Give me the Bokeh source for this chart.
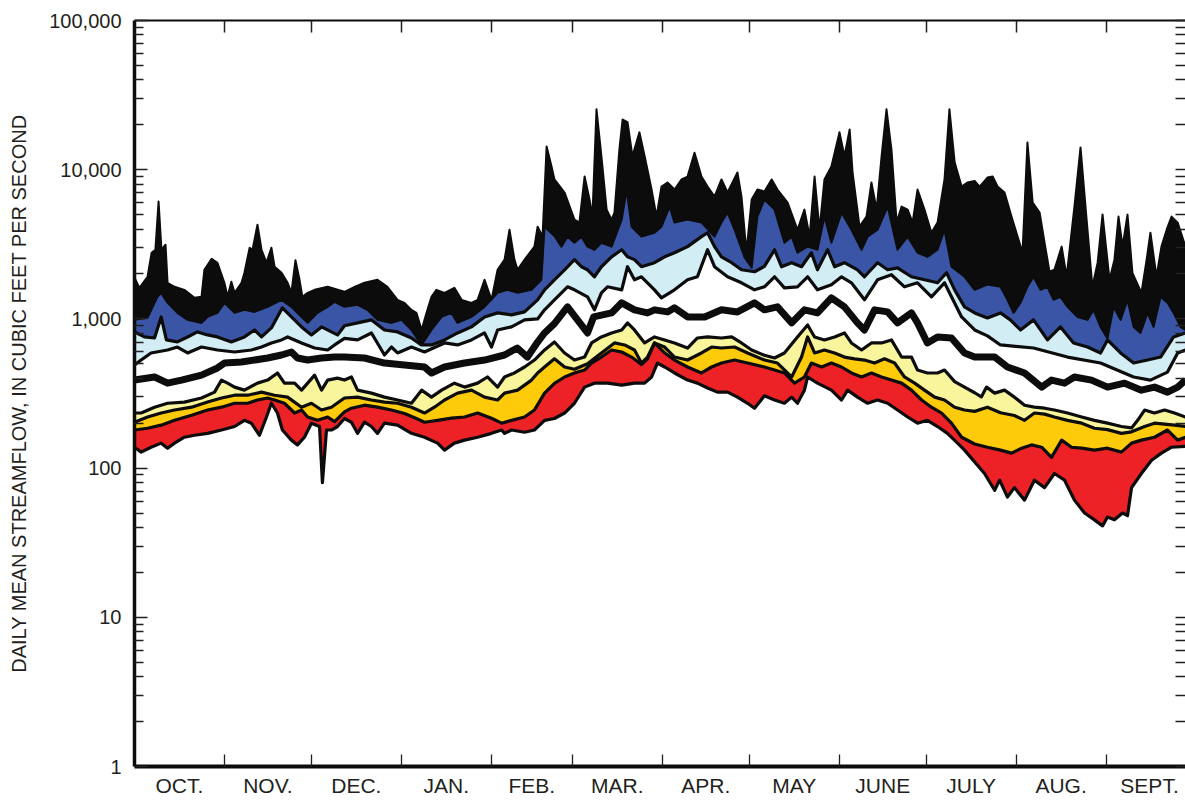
from bokeh.plotting import figure
from bokeh.models import FixedTicker, NumeralTickFormatter, LinearAxis, Range1d
from bokeh.embed import file_html
from bokeh.resources import INLINE

# ---------------- data (day of water year, daily mean streamflow in cfs) ----------------
MONTHS = ["OCT.", "NOV.", "DEC.", "JAN.", "FEB.", "MAR.", "APR.", "MAY", "JUNE", "JULY", "AUG.", "SEPT."]
MONTH_LENGTHS = [31, 30, 31, 31, 28, 31, 30, 31, 30, 31, 31, 30]
Y_TICKS = [1, 10, 100, 1000, 10000, 100000]

MAXIMUM = [(0, 1886), (1.7, 1615), (4.5, 1916), (5.9, 2777), (7.2, 2907), (8.3, 6110), (9.3, 2907), (10.7, 3143),
           (11.4, 1746), (13.8, 1641), (17.2, 1566), (20.7, 1384), (23.1, 1406), (24.1, 2134), (26.6, 2530),
           (28.6, 2380), (31, 1746), (32.1, 1406), (33.4, 1773), (34.5, 1495), (36.9, 1746), (37.9, 2037),
           (39.7, 3000), (40.7, 2907), (42.4, 4280), (43.8, 2907), (45.5, 2380), (47.2, 3000), (48.3, 2237),
           (50.7, 2037), (52.8, 1746), (54.1, 1495), (55.5, 2475), (56.9, 1828), (57.9, 1406), (59.7, 1495),
           (62.1, 1566), (66.6, 1641), (72.4, 1519), (75.9, 1641), (79.3, 1746), (83.8, 1828), (87.2, 1641),
           (90.7, 1342), (93.1, 1281), (95.5, 1150), (97.2, 1097), (99, 843), (100.7, 1097), (102.4, 1406),
           (104.1, 1566), (106.9, 1495), (110.3, 1615), (112.8, 1342), (116.2, 1281), (118.3, 1342), (120.7, 1828),
           (123.1, 1342), (125.2, 2134), (127.6, 2496), (129.3, 3960), (131, 2496), (132.1, 2134), (134.5, 2496),
           (137.9, 3050), (139, 4150), (140.7, 3558), (142.1, 14300), (143.8, 10500), (144.8, 8600), (148.3, 7030),
           (151.7, 4630), (153.4, 4420), (155.2, 9000), (156.9, 6310), (157.9, 4850), (159.3, 25400), (161, 12300),
           (162.8, 5400), (164.5, 4630), (165.5, 5160), (167.2, 13700), (168.3, 21700), (170, 20800), (171.7, 12300),
           (174.1, 17800), (175.9, 12300), (178.3, 7360), (180, 4850), (181.7, 7710), (183.8, 8200), (186.2, 7360),
           (188.6, 8600), (190.7, 9000), (193.1, 13000), (195.5, 9000), (197.6, 7710), (200, 6600), (202.4, 8600),
           (204.5, 7030), (207.9, 9580), (209.3, 6600), (211, 2800), (212.8, 6310), (214.8, 7360), (217.2, 7140),
           (219.7, 8600), (221.7, 7360), (225.2, 6020), (228.6, 3960), (231, 5400), (232.8, 3558), (234.5, 9000),
           (236.2, 3960), (237.9, 8600), (240.3, 10500), (243.1, 17800), (244.8, 12300), (246.6, 18600),
           (247.6, 9580), (250, 4150), (252.4, 4850), (254.1, 8200), (255.9, 5400), (257.6, 12300), (259.3, 25400),
           (261, 13700), (262.8, 4420), (264.5, 5660), (266.6, 5400), (268.3, 4420), (270, 7360), (272.4, 5400),
           (274.8, 3780), (276.9, 4420), (279.3, 8600), (281, 25400), (282.8, 11200), (285.2, 7710), (287.2, 8200),
           (289.7, 8400), (291.4, 7710), (294.1, 8860), (295.9, 9000), (297.6, 7710), (300, 7030), (302.4, 4850),
           (304.5, 3558), (306.2, 2777), (307.9, 15200), (309.7, 6020), (312.1, 5160), (313.8, 3240), (315.5, 2070),
           (317.2, 2134), (319.7, 3050), (321.4, 1916), (324.1, 5660), (326.2, 14100), (328.3, 4630), (330.3, 1641),
           (332.1, 2380), (333.8, 5000), (336.2, 1828), (337.9, 2496), (339.3, 4850), (340.7, 3050), (342.4, 5000),
           (344.1, 2037), (347.2, 1495), (349, 2496), (350.3, 3780), (352.4, 1916), (354.1, 3050), (355.9, 3960),
           (357.6, 4850), (359.7, 4420), (362.4, 3050)]

P95 = [(0, 985), (4.5, 1016), (7.9, 1406), (9.2, 1495), (11.4, 1281), (14.8, 1097), (18.3, 985), (23.1, 940),
       (25.2, 1031), (28.6, 1097), (31, 1281), (34.5, 1097), (37.9, 1150), (41.4, 1114), (45.9, 1204), (50.7, 1342),
       (54.1, 1204), (57.6, 1031), (59.7, 940), (63.1, 1097), (66.6, 1204), (69, 1300), (72.4, 1204), (76.9, 1242),
       (80.3, 1150), (83.8, 985), (88.6, 940), (92.1, 985), (95.5, 843), (99, 669), (102.4, 843), (105.9, 1031),
       (109.3, 1097), (111.4, 940), (116.2, 1031), (120.7, 1204), (125.2, 1495), (128.6, 1566), (132.1, 1495),
       (136.9, 1566), (140.3, 1828), (141.4, 4150), (144.8, 3600), (147.2, 3050), (149.3, 3558), (151.7, 3240),
       (154.1, 3558), (156.2, 3050), (158.6, 2907), (161, 3240), (164.5, 3050), (168, 4630), (169.7, 7360),
       (171.4, 4150), (174.8, 3558), (179.3, 3780), (181.7, 4150), (184.5, 5660), (186.2, 4420), (190.7, 4630),
       (195.5, 4420), (200, 3558), (202.4, 4420), (204.5, 5160), (206.9, 3960), (210.3, 2606), (212.8, 2200),
       (214.8, 4850), (217.2, 6310), (220.7, 5400), (224.1, 3240), (226.6, 3558), (228.6, 2777), (232.1, 3050),
       (235.5, 2907), (237.9, 4850), (240.3, 3240), (243.8, 5160), (247.2, 3960), (250.7, 2907), (252.8, 3558),
       (256.2, 3960), (259.7, 5660), (263.1, 2907), (266.6, 3558), (270, 2777), (273.4, 2606), (276.9, 2907),
       (279.3, 3960), (281.7, 2237), (286.2, 1916), (289.7, 1566), (294.1, 1700), (298.6, 1641), (301, 1342),
       (303.1, 1097), (305.5, 1281), (307.9, 1641), (310, 1916), (312.4, 1566), (314.8, 1641), (316.9, 1342),
       (319.3, 1406), (321.7, 1204), (325.2, 1031), (328.6, 985), (330.7, 1150), (333.1, 884), (335.5, 740),
       (337.6, 1204), (340, 985), (342.4, 1342), (344.5, 884), (346.9, 805), (349.3, 1097), (351.4, 884),
       (353.8, 1406), (356.2, 1281), (358.3, 1097), (360.7, 884), (362.4, 843)]

P90 = [(0, 818), (3.4, 757), (6.9, 745), (9.2, 1031), (11, 723), (14.8, 701), (18.3, 757), (21.7, 818), (25.2, 781),
       (28.6, 757), (33.4, 701), (37.9, 757), (41.4, 843), (43.8, 757), (47.2, 870), (51, 1186), (54.1, 1031),
       (57.6, 884), (61, 781), (64.5, 884), (67.9, 818), (70, 781), (72.4, 900), (76.9, 940), (81.7, 985),
       (86.2, 843), (90.7, 818), (95.5, 745), (98.9, 669), (102.4, 669), (106.9, 723), (111.4, 805), (116.2, 884),
       (120.7, 1031), (125.2, 1097), (130, 1064), (134.5, 1114), (139, 1342), (141.4, 1566), (144.8, 1828),
       (148.3, 2134), (151.7, 2496), (154.1, 2237), (156.2, 2134), (158.6, 1916), (161, 2237), (164.5, 2606),
       (168, 2907), (170, 2606), (172.4, 2496), (174.8, 2237), (179.3, 2380), (182.8, 2606), (186.2, 2777),
       (190.7, 3050), (195.5, 3558), (197.6, 3780), (200, 3050), (202.4, 2606), (205.9, 2380), (209.3, 2134),
       (213.8, 2070), (217.2, 2250), (220.7, 2907), (223.1, 2237), (226.6, 2380), (230, 2237), (233.4, 2777),
       (235.5, 2134), (239, 2907), (241.4, 2237), (244.8, 2380), (249.3, 2134), (251.7, 1916), (256.2, 2380),
       (259.7, 2134), (263.1, 2200), (267.9, 1916), (272.4, 1828), (276.9, 1746), (280, 2037), (282.8, 1566),
       (286.2, 1204), (289.7, 1097), (294.1, 1015), (298.6, 1097), (302, 985), (305.5, 843), (310, 985),
       (314.8, 723), (319.3, 884), (323.8, 690), (328.6, 648), (333.1, 591), (335.5, 723), (340, 591), (344.5, 506),
       (349.3, 530), (353.8, 555), (358.3, 757), (362.4, 805)]

P75 = [(0, 491), (2.3, 530), (5.7, 591), (11.4, 619), (14.8, 648), (18.3, 591), (23.1, 648), (28.6, 619),
       (34.5, 600), (40.3, 619), (43.8, 648), (47.2, 690), (50.7, 723), (52.8, 757), (57.6, 690), (62.1, 638),
       (66.6, 619), (69, 669), (72.4, 740), (76.9, 723), (81.7, 805), (86.2, 573), (88.6, 648), (90.7, 591),
       (95.5, 648), (100, 600), (106.9, 690), (111.4, 669), (116.2, 723), (120.7, 805), (123.1, 648), (125.2, 843),
       (130, 884), (134.5, 985), (139, 1000), (141.4, 1150), (144.8, 1342), (149.3, 1641), (151.7, 1566),
       (156.2, 1406), (158.6, 1150), (161, 1495), (163.1, 1641), (168, 1566), (170, 2237), (172.4, 1828),
       (174.8, 1916), (179.3, 1566), (181.7, 1384), (186.2, 1566), (190.7, 1828), (194.1, 1916), (197.6, 2907),
       (200, 2237), (204.5, 1916), (209.3, 1746), (213.8, 1566), (217.2, 1641), (220.7, 1916), (224.1, 1615),
       (228.6, 1641), (232.1, 1916), (235.5, 1566), (240.3, 1692), (243.8, 1916), (247.2, 1746), (251.7, 1342),
       (256.2, 1828), (261, 1977), (265.5, 1641), (270, 1746), (274.8, 1406), (279.3, 1746), (281.7, 1406),
       (285.2, 1031), (289.7, 843), (294.1, 769), (298.6, 669), (310, 638), (321.7, 555), (333.1, 506),
       (344.5, 408), (350.3, 389), (356.2, 440), (359.7, 591), (362.4, 619)]

MEDIAN = [(0, 389), (6.9, 408), (11.4, 371), (16.2, 389), (23.1, 420), (28.6, 469), (31, 506), (36.9, 514),
          (45.9, 547), (50.7, 573), (54.1, 600), (56.2, 547), (59.7, 530), (64.5, 547), (69, 555), (72.4, 555),
          (79.3, 547), (86.2, 506), (93.1, 491), (100, 476), (102.4, 434), (106.9, 476), (113.8, 506), (120.7, 530),
          (127.6, 573), (132, 638), (135.5, 555), (139, 700), (141.4, 805), (144.8, 930), (149.3, 1204),
          (156.2, 805), (158.3, 1031), (164.5, 1097), (168, 1281), (172.4, 1150), (176.9, 1097), (179.3, 1150),
          (183.8, 1114), (186.2, 1186), (190.7, 1031), (196.6, 1031), (202.4, 1150), (207.9, 1114), (213.8, 1281),
          (217.2, 1150), (221.7, 1204), (226.6, 940), (231, 1150), (235.5, 1097), (240.3, 1384), (244.8, 1204),
          (249.3, 940), (251.7, 843), (255.2, 1150), (259.7, 1114), (263.1, 940), (267.9, 1097), (270, 940),
          (273.4, 690), (276.9, 757), (281.7, 745), (286.2, 591), (289.7, 555), (296.6, 555), (301, 476),
          (306.9, 434), (312.8, 349), (316.2, 389), (320.7, 371), (324.1, 408), (330, 389), (335.5, 349),
          (341.4, 371), (347.2, 333), (351.7, 349), (356.2, 323), (359.7, 349), (362.4, 389)]

P25 = [(0, 234), (2.3, 234), (6.9, 256), (11.4, 272), (17.2, 277), (23.1, 295), (27.6, 323), (30, 389), (32.1, 371),
       (34.5, 349), (37.9, 333), (42.4, 371), (45.9, 389), (49.3, 434), (51.7, 371), (55.2, 371), (57.6, 333),
       (59.7, 371), (62.1, 420), (64.5, 333), (66.6, 389), (70, 401), (72.4, 389), (74.8, 408), (76.9, 333),
       (81.7, 318), (86.2, 299), (90.7, 286), (95.5, 272), (99, 333), (102.4, 299), (105.9, 333), (110.3, 371),
       (113.8, 349), (118.3, 371), (121.7, 408), (125.2, 349), (127.6, 408), (131, 434), (134.5, 476), (137.9, 530),
       (141.4, 619), (144.8, 700), (148.3, 591), (151.7, 530), (155.2, 555), (157.6, 690), (161, 757), (164.5, 805),
       (168, 843), (170, 940), (172.4, 843), (175.9, 690), (179.3, 757), (182.8, 723), (186.2, 690), (190.7, 638),
       (194.1, 745), (197.6, 757), (202.4, 745), (205.9, 757), (209.3, 690), (212.8, 619), (217.2, 570),
       (220.7, 547), (224.1, 591), (228.6, 757), (232.1, 911), (234.5, 757), (237.9, 723), (241.4, 757),
       (244.8, 805), (247.2, 690), (250.7, 619), (254.1, 690), (257.6, 690), (261, 723), (264.5, 555), (267.9, 555),
       (270, 454), (273.4, 434), (276.9, 434), (279.3, 454), (282.8, 380), (286.2, 349), (289.7, 320), (292, 300),
       (293.8, 349), (296.6, 318), (300, 333), (303.4, 299), (306.9, 264), (310.3, 256), (313.8, 252), (317.2, 245),
       (321.7, 234), (326.6, 220), (331, 209), (335.5, 200), (340.3, 190), (343.8, 186), (345.9, 209), (348.3, 245),
       (351.7, 234), (355.2, 245), (358.6, 234), (362.4, 220)]

P10 = [(0, 203), (4.5, 220), (9.2, 234), (13.8, 245), (19.7, 256), (25.2, 277), (30, 295), (34.5, 308), (39, 308),
       (43.8, 323), (48.3, 308), (52.8, 299), (57.6, 256), (61, 272), (64.5, 245), (67.9, 256), (72.4, 295),
       (76.9, 299), (81.7, 286), (86.2, 277), (90.7, 272), (95.5, 256), (100, 234), (103.4, 256), (106.9, 286),
       (111.4, 318), (116.2, 333), (120.7, 299), (125.2, 286), (127.6, 318), (132.1, 333), (136.9, 389), (139, 434),
       (141.4, 476), (144.8, 540), (148.3, 476), (151.7, 460), (156.2, 500), (161, 591), (165.5, 690), (169, 669),
       (172.4, 619), (174.8, 506), (176.9, 555), (179.3, 690), (182.8, 648), (186.2, 555), (190.7, 530),
       (195.5, 591), (199, 648), (202.4, 638), (206.9, 648), (211.4, 591), (217.2, 530), (221.7, 506), (226.6, 408),
       (230, 555), (232.1, 757), (234.5, 591), (237.9, 619), (241.4, 591), (244.8, 555), (248.3, 540), (251.7, 530),
       (255.2, 506), (258.6, 540), (262.1, 506), (265.5, 408), (269, 371), (272.4, 333), (275.9, 299), (279.3, 286),
       (282.8, 256), (286.2, 245), (289.7, 240), (294.1, 256), (298.6, 235), (303.4, 225), (306.9, 209),
       (310.3, 234), (313.8, 230), (317.2, 220), (321.7, 209), (326.6, 200), (331, 185), (335.5, 181), (340.3, 171),
       (343.8, 175), (348.3, 190), (351.7, 200), (355.2, 197), (358.6, 194), (362.4, 190)]

P05 = [(0, 180), (4.5, 185), (9.2, 194), (13.8, 209), (19.7, 226), (25.2, 245), (30, 256), (34.5, 272), (39, 272),
       (42.4, 286), (45.9, 295), (48.3, 286), (51.7, 272), (55.2, 234), (57.6, 245), (59.7, 220), (63.1, 209),
       (66.6, 220), (69, 205), (72.4, 238), (74.8, 252), (79.3, 264), (83.8, 256), (88.6, 245), (93.1, 232),
       (97.2, 215), (100, 203), (104.5, 209), (109.3, 216), (113.8, 220), (118.3, 234), (123.1, 216), (126.6, 200),
       (130, 209), (134.5, 220), (137.9, 245), (141.4, 318), (144.8, 370), (148.3, 408), (151.7, 434), (155.2, 454),
       (157.6, 506), (161, 555), (164.5, 619), (168, 600), (171.4, 555), (174.8, 495), (176.9, 540), (179.3, 690),
       (182.8, 591), (186.2, 530), (190.7, 476), (195.5, 434), (199, 476), (202.4, 506), (206.9, 530), (211.4, 506),
       (217.2, 476), (220.7, 454), (224.1, 434), (227.6, 371), (231, 408), (233.4, 506), (236.9, 476), (240.3, 506),
       (243.8, 476), (247.2, 434), (250.7, 408), (254.1, 434), (257.6, 408), (261, 389), (264.5, 371), (267.9, 333),
       (271.4, 286), (274.8, 256), (278.3, 234), (281.7, 200), (285.2, 161), (289.7, 145), (294.1, 138),
       (298.6, 132), (302.4, 126), (305.9, 136), (309.3, 143), (312.8, 138), (316.2, 118), (319.7, 154),
       (323.1, 138), (326.6, 136), (331, 132), (335.5, 136), (340.3, 128), (343.8, 147), (347.2, 154), (351.7, 161),
       (356.2, 180), (359.7, 154), (362.4, 161)]

MINIMUM = [(0, 138), (2.3, 128), (5.7, 138), (9.2, 147), (11.4, 136), (13.8, 147), (17.2, 161), (20.7, 166),
           (25.2, 171), (30, 180), (34.5, 190), (37.9, 209), (40.3, 200), (43.1, 166), (45.5, 220), (47.2, 272),
           (49.3, 234), (51, 180), (54.1, 154), (56.2, 143), (58.6, 161), (61, 200), (63.8, 190), (64.8, 80),
           (66.2, 180), (67.9, 180), (70, 190), (72.4, 215), (74.8, 203), (76.9, 171), (79.3, 203), (81.7, 190),
           (83.8, 171), (86.2, 200), (90.7, 194), (95.5, 171), (100, 161), (104.5, 147), (106.9, 132), (110.3, 147),
           (113.8, 154), (118.3, 161), (123.1, 171), (126.6, 180), (127.6, 171), (130, 180), (134.5, 174), (137.9, 180),
           (141.4, 209), (144.8, 215), (148.3, 234), (151.7, 272), (155.2, 349), (158.6, 371), (163.1, 371),
           (168, 360), (172.4, 371), (175.9, 371), (178.3, 408), (180.3, 506), (182.8, 476), (186.2, 434),
           (190.7, 389), (194.1, 371), (197.6, 344), (201, 323), (204.5, 323), (207.9, 299), (211.4, 272),
           (213.8, 252), (217.2, 305), (220.7, 286), (224.1, 272), (226.6, 299), (228.6, 272), (231, 333),
           (232.1, 408), (235.5, 371), (240.3, 333), (243.8, 286), (245.9, 333), (249.3, 299), (252.8, 272),
           (256.2, 286), (259.7, 272), (263.1, 245), (266.6, 220), (270, 200), (273.4, 209), (276.9, 190),
           (280.3, 171), (283.8, 147), (286.2, 132), (289.7, 110), (293.1, 92), (296.6, 71), (298.3, 83), (301, 64),
           (303.4, 74), (306.9, 61), (310.3, 83), (313.8, 74), (317.2, 92), (320.7, 83), (324.1, 61), (327.6, 50),
           (331, 45), (333.8, 41), (335.5, 47), (337.9, 45), (340.7, 50), (342.4, 48), (343.8, 74), (347.2, 92),
           (350.7, 113), (354.1, 126), (357.6, 138), (362.4, 140)]

# ---------------- styling ----------------
FONT = "Liberation Sans"
INK = "#231f20"
BLACK = "#0c0c0c"
Y_MIN, Y_MAX = 1, 100000
X_END = 362.4

p = figure(width=1185, height=801, x_range=Range1d(0, X_END), y_range=Range1d(Y_MIN, Y_MAX),
           y_axis_type="log", output_backend="svg", toolbar_location=None,
           min_border_left=134, min_border_top=20, min_border_bottom=35, min_border_right=0)
p.outline_line_color = None
p.grid.visible = False


def split(series):
    return [d for d, _ in series], [v for _, v in series]


def area(series, color):
    xs, ys = split(series)
    p.patch(xs + [xs[-1], xs[0]], ys + [Y_MIN, Y_MIN], fill_color=color, line_color=None)


# bands painted top to bottom
area(MAXIMUM, BLACK)
area(P95, "#3a55a5")
area(P90, "#d3edf4")
area(P75, "#ffffff")
area(P25, "#f8f59d")
area(P10, "#fecb0a")
area(P05, "#ec2227")
area(MINIMUM, "#ffffff")

for series, w in [(MAXIMUM, 2), (P95, 2), (P90, 3.2), (P75, 3.2), (MEDIAN, 7),
                  (P25, 3.2), (P10, 3.2), (P05, 3.2), (MINIMUM, 3.2)]:
    xs, ys = split(series)
    p.line(xs, ys, line_color=BLACK, line_width=w, line_join="round")

# month ticks
bounds, mids, start = [], [], 0
for n in MONTH_LENGTHS:
    mids.append(start + n / 2)
    start += n
    bounds.append(start)
bounds = bounds[:-1]

xa = p.xaxis[0]
xa.ticker = FixedTicker(ticks=mids, minor_ticks=bounds)
xa.major_label_overrides = {m: lab for m, lab in zip(mids, MONTHS)}
xa.major_tick_in = 0
xa.major_tick_out = 0
xa.minor_tick_in = 12
xa.minor_tick_out = 0
xa.minor_tick_line_color = INK
xa.minor_tick_line_width = 1.3
xa.axis_line_width = 4
xa.axis_line_color = BLACK
xa.major_label_text_font = FONT
xa.major_label_text_font_size = "21px"
xa.major_label_text_color = INK
xa.major_label_standoff = 7

top = LinearAxis(ticker=FixedTicker(ticks=[], minor_ticks=bounds), major_label_text_font_size="0px",
                 major_tick_in=0, major_tick_out=0, minor_tick_in=12, minor_tick_out=0,
                 minor_tick_line_color=INK, minor_tick_line_width=1.5,
                 axis_line_width=1.8, axis_line_color=BLACK, major_label_standoff=0)
p.add_layout(top, "above")

minor_y = [k * t for t in Y_TICKS[:-1] for k in range(2, 10)]

right = LinearAxis(ticker=FixedTicker(ticks=[], minor_ticks=Y_TICKS + minor_y), major_label_text_font_size="0px",
                   major_tick_in=0, major_tick_out=0, minor_tick_in=10, minor_tick_out=0,
                   minor_tick_line_color=INK, minor_tick_line_width=1.4,
                   axis_line_color=None, major_label_standoff=0)
p.add_layout(right, "right")

ya = p.yaxis[0]
ya.ticker = FixedTicker(ticks=Y_TICKS, minor_ticks=minor_y)
ya.formatter = NumeralTickFormatter(format="0,0")
ya.major_tick_in = 13
ya.major_tick_out = 0
ya.minor_tick_in = 9
ya.minor_tick_out = 0
ya.major_tick_line_color = INK
ya.minor_tick_line_color = INK
ya.major_tick_line_width = 1.5
ya.minor_tick_line_width = 1.3
ya.axis_line_width = 3.5
ya.axis_line_color = BLACK
ya.major_label_text_font = FONT
ya.major_label_text_font_size = "20px"
ya.major_label_text_color = INK
ya.major_label_standoff = 13
ya.axis_label = "DAILY MEAN STREAMFLOW, IN CUBIC FEET PER SECOND"
ya.axis_label_text_font = FONT
ya.axis_label_text_font_size = "20px"
ya.axis_label_text_font_style = "normal"
ya.axis_label_text_color = INK
ya.axis_label_standoff = 16

open("out.html", "w").write(file_html(p, INLINE))
